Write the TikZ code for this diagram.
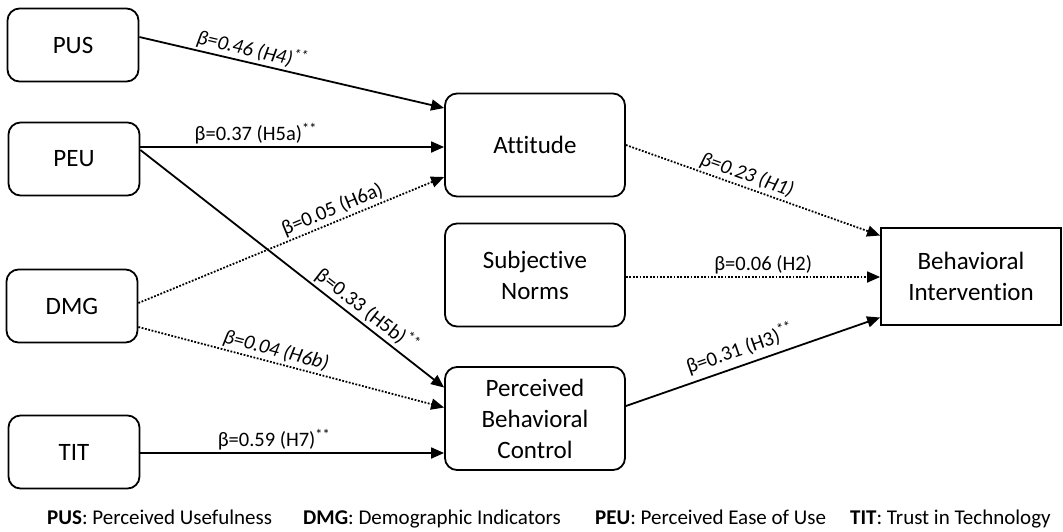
\documentclass[tikz,border=0pt]{standalone}
\usepackage{fontspec}
\setmainfont{Carlito}[Ligatures=NoCommon]
\usetikzlibrary{arrows.meta}
\tikzset{
  box/.style={draw, line width=1.8pt, rounded corners=12pt, inner sep=0pt, align=center,
    font=\fontsize{25}{31}\selectfont},
  srcbox/.style={box, minimum width=131pt, minimum height=73pt},
  midbox/.style={box, minimum width=180pt, minimum height=103pt},
  conn/.style={line width=1.8pt, -{Triangle[length=13pt,width=11pt]}},
  dotconn/.style={conn, dash pattern=on 1.8pt off 1.6pt},
  lbl/.style={font=\fontsize{20.5}{24}\selectfont, inner sep=2pt},
  itlbl/.style={lbl, font=\fontsize{20.5}{24}\selectfont\itshape},
  leg/.style={anchor=base west, inner sep=0pt, font=\fontsize{21}{25}\selectfont}
}
\begin{document}
\begin{tikzpicture}[x=1pt,y=-1pt]
\useasboundingbox (0,0) rectangle (1063,531);
% left column
\node[srcbox] (pus) at (73,45) {PUS};
\node[srcbox] (peu) at (74,159) {PEU};
\node[srcbox] (dmg) at (72,306) {DMG};
\node[srcbox] (tit) at (74,452) {TIT};
% middle column
\node[midbox] (att) at (535,145) {Attitude};
\node[midbox] (sn) at (535,275) {Subjective\\Norms};
\node[midbox] (pbc) at (535,418.5) {Perceived\\Behavioral\\Control};
% outcome
\node[box, rounded corners=0pt, minimum width=180pt, minimum height=97pt] (bi) at (971,276.5) {Behavioral\\Intervention};
% connectors
\draw[conn] ([yshift=8pt]pus.east) -- node[itlbl, above, sloped, pos=0.36] {β=0.46 (H4)\textsuperscript{**}} ([yshift=37pt]att.west);
\draw[conn] ([yshift=12pt]peu.east) -- node[lbl, above, pos=0.38] {β=0.37 (H5a)\textsuperscript{**}} ([yshift=12pt]peu.east -| att.west);
\draw[dotconn] ([yshift=3pt]dmg.east) -- node[lbl, above, sloped, pos=0.65] {β=0.05 (H6a)} ([yshift=-32pt]att.west);
\draw[conn] ([yshift=9pt]peu.east) -- node[lbl, above, sloped, pos=0.72] {β=0.33 (H5b)\textsuperscript{**}} ([yshift=31pt]pbc.west);
\draw[dotconn] ([yshift=-21pt]dmg.east) -- node[itlbl, above, sloped, pos=0.44] {β=0.04 (H6b)} ([yshift=11pt]pbc.west);
\draw[conn] ([yshift=-1pt]tit.east) -- node[lbl, above, pos=0.44] {β=0.59 (H7)\textsuperscript{**}} ([yshift=-1pt]tit.east -| pbc.west);
\draw[dotconn] (att.east) -- node[itlbl, above, sloped, pos=0.46] {β=0.23 (H1)} ([yshift=41pt]bi.west);
\draw[dotconn] ([yshift=-2pt]sn.east) -- node[lbl, above, pos=0.54] {β=0.06 (H2)} ([yshift=-2pt]sn.east -| bi.west);
\draw[conn] ([yshift=12.5pt]pbc.east) -- node[lbl, above=3pt, sloped, pos=0.47] {β=0.31 (H3)\textsuperscript{**}} ([yshift=-41pt]bi.west);
% legend
\node[leg] (legpus) at (47,524) {\textbf{PUS}: Perceived Usefulness};
\node[leg] (legdmg) at (303,524) {\textbf{DMG}: Demographic Indicators};
\node[leg] (legpeu) at (595,524) {\textbf{PEU}: Perceived Ease of Use};
\node[leg] (legtit) at (850,524) {\textbf{TIT}: Trust in Technology};
\end{tikzpicture}
\end{document}
